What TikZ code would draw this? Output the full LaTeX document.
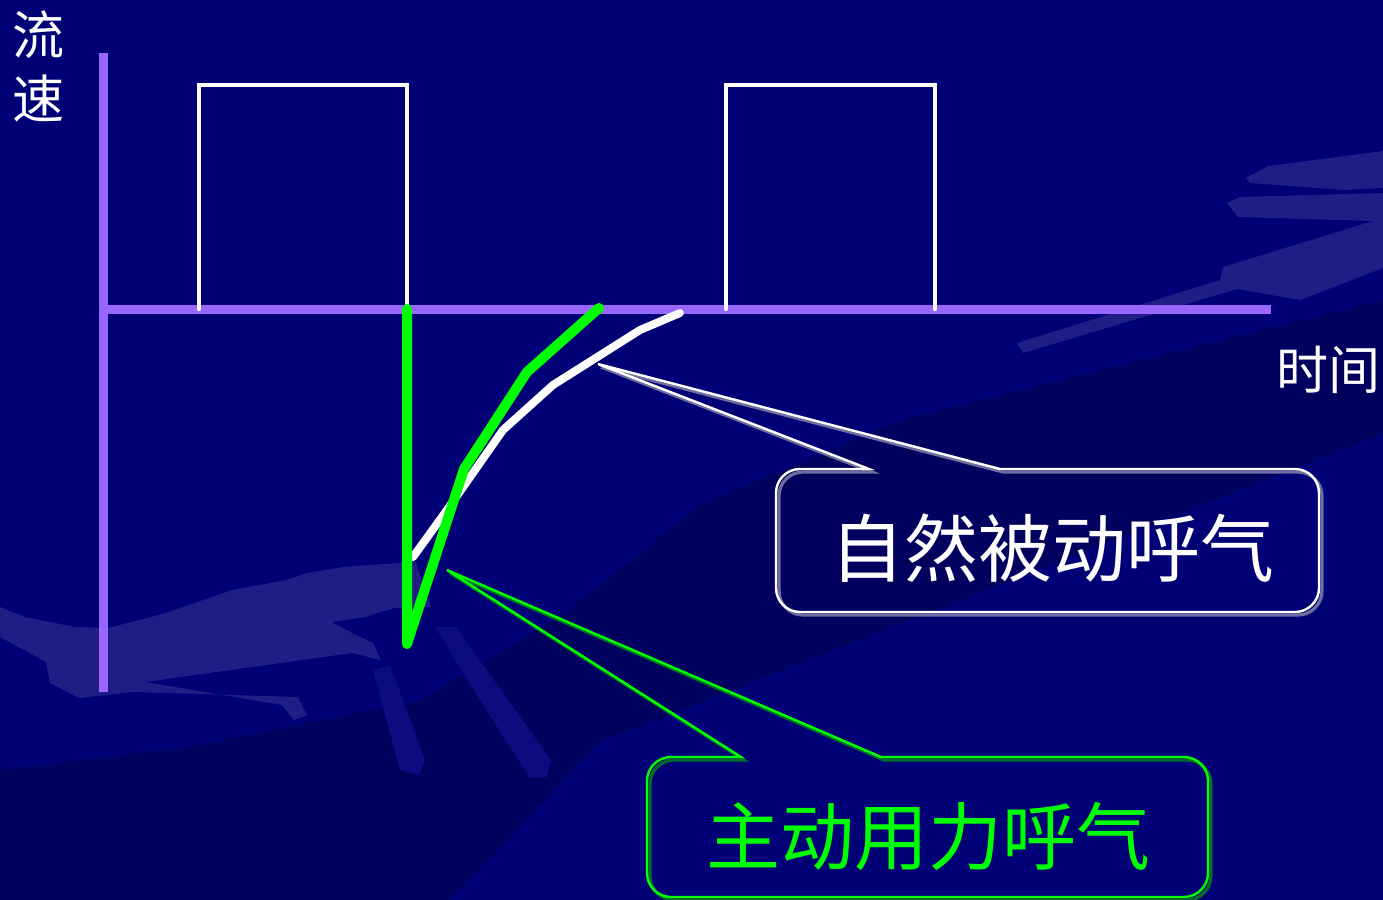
\documentclass[tikz,border=0pt]{standalone}
\usepackage{fontspec}
\newfontfamily\cjk{Noto Sans CJK SC}
\definecolor{bgblue}{RGB}{0,0,118}
\definecolor{darkband}{RGB}{0,0,94}
\definecolor{handlight}{RGB}{32,30,132}
\definecolor{fingerblue}{RGB}{12,12,128}
\definecolor{axispurple}{RGB}{153,102,255}
\definecolor{brightgreen}{RGB}{0,255,0}
\definecolor{shadowgray}{RGB}{110,110,160}
\definecolor{shadowgreen}{RGB}{0,110,40}
\tikzset{
  axisline/.style={draw=axispurple, line width=4.5pt},
  pulse/.style={draw=white, line width=2pt, line cap=round},
  activecurve/.style={draw=brightgreen, line width=5pt, line cap=round, line join=round},
  passivecurve/.style={draw=white, line width=4pt, line cap=round, line join=round},
  calloutwhite/.style={draw=white, line width=1.2pt, line join=miter},
  calloutgreen/.style={draw=brightgreen, line width=1.2pt, line join=miter},
  calloutshadow/.style={line width=1.6pt},
  axislabel/.style={inner sep=0pt, text=white, font=\cjk\fontsize{26pt}{32pt}\selectfont},
  calloutlabel/.style={inner sep=0pt, font=\cjk\fontsize{37pt}{37pt}\selectfont},
}
\begin{document}
\begin{tikzpicture}[x=0.5pt,y=-0.5pt]
\useasboundingbox (0,0) rectangle (1383,900);
% background
\fill[bgblue] (0,0) rectangle (1383,900);
\fill[darkband] (0,770) -- (200,745) -- (420,700) -- (560,617) -- (700,505) -- (900,420) -- (1383,300)
  -- (1383,434) -- (1283,473) -- (860,640) -- (600,742) -- (450,900) -- (0,900) -- cycle;
% faint hand shapes
\fill[handlight] (0,607) -- (25,617) -- (75,627) -- (108,628) -- (166,613) -- (232,590) -- (286,580)
  -- (307,573) -- (344,567) -- (398,563) -- (415,560) -- (431,607) -- (394,608) -- (365,617)
  -- (332,622) -- (352,633) -- (373,643) -- (381,660) -- (352,653) -- (145,682) -- (282,705)
  -- (294,720) -- (307,715) -- (298,697) -- (133,692) -- (79,698) -- (50,683) -- (46,662)
  -- (0,637) -- cycle;
\fill[fingerblue] (435,627) -- (456,627) -- (551,760) -- (547,777) -- (530,778) -- (480,700) -- cycle;
\fill[fingerblue] (373,670) -- (390,665) -- (425,760) -- (419,775) -- (400,770) -- cycle;
\fill[handlight] (1246,178) -- (1268,166) -- (1383,151) -- (1383,188) -- (1345,190) -- (1250,183) -- cycle;
\fill[handlight] (1227,203) -- (1240,197) -- (1383,193) -- (1383,268) -- (1300,300) -- (1237,289)
  -- (1023,353) -- (1017,343) -- (1220,280) -- (1223,267) -- (1373,221) -- (1238,217) -- cycle;
% axes
\coordinate (origin) at (103,309);
\coordinate (yend) at (103,53);
\coordinate (ybottom) at (103,692);
\coordinate (xend) at (1271,309);
\draw[axisline] (yend) -- (ybottom);
\draw[axisline] (origin) -- (xend);
% square pulses
\draw[pulse] (199,309) -- (199,85) -- (407,85) -- (407,309);
\draw[pulse] (726,309) -- (726,85) -- (935,85) -- (935,309);
% passive expiration curve (white)
\draw[passivecurve] (413,557) -- (447,510) -- (503,430) -- (553,385) -- (640,330) -- (680,313);
% active expiration curve (green)
\draw[activecurve] (407,309) -- (407,644) -- (464,469) -- (527,372) -- (599,308);
% callout 1
\coordinate (tipwhite) at (598,364);
\draw[calloutshadow, draw=shadowgray] ([shift={(3,3)}]869,469) -- ([shift={(3,3)}]tipwhite) -- ([shift={(3,3)}]1000,469)
  [rounded corners=12pt] -- (1322,472) -- (1322,615) -- (779,615) -- (779,472) [sharp corners] -- cycle;
\draw[calloutwhite] (869,469) -- (tipwhite) -- (1000,469)
  [rounded corners=12pt] -- (1319,469) -- (1319,612) -- (776,612) -- (776,469) [sharp corners] -- cycle;
\node[calloutlabel, text=white] (passive) at (1052,548) {自然被动呼气};
% callout 2
\coordinate (tipgreen) at (447,570);
\draw[calloutshadow, draw=shadowgreen] ([shift={(3,3)}]741,757) -- ([shift={(3,3)}]tipgreen) -- ([shift={(3,3)}]881,757)
  [rounded corners=12pt] -- (1211,760) -- (1211,900) -- (650,900) -- (650,760) [sharp corners] -- cycle;
\draw[calloutgreen] (741,757) -- (tipgreen) -- (881,757)
  [rounded corners=12pt] -- (1208,757) -- (1208,897) -- (647,897) -- (647,757) [sharp corners] -- cycle;
\node[calloutlabel, text=brightgreen] (active) at (928,836) {主动用力呼气};
% axis labels
\node[axislabel, align=center] (ylabel) at (38,67) {流\\速};
\node[axislabel] (xlabel) at (1328,370) {时间};
\end{tikzpicture}
\end{document}
